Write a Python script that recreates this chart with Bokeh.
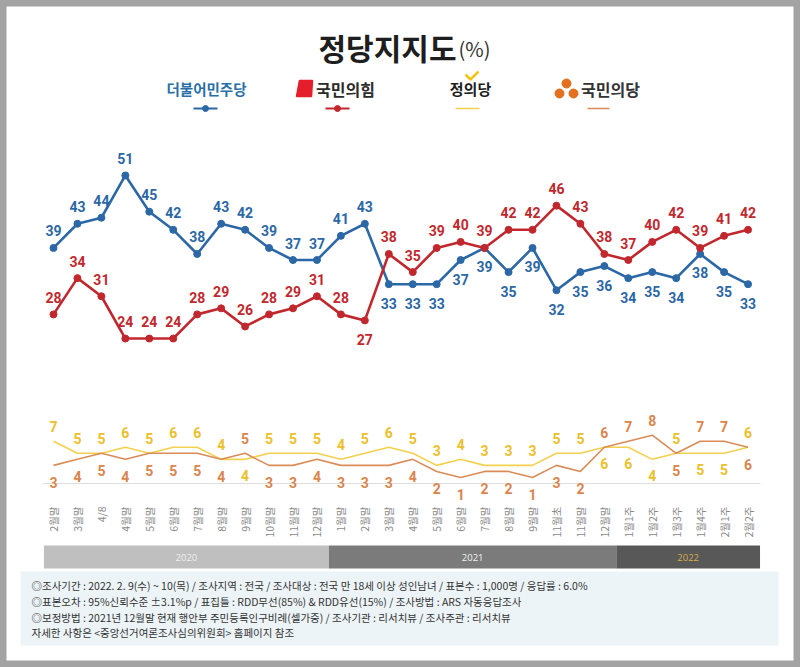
import numpy as np
from bokeh.plotting import figure
from bokeh.models import ColumnDataSource, Range1d
from bokeh.core.properties import value
from bokeh.embed import file_html
from bokeh.resources import INLINE

# ---------------- data ----------------
categories = ["2월말", "3월말", "4/8", "4월말", "5월말", "6월말", "7월말", "8월말", "9월말",
              "10월말", "11월말", "12월말",
              "1월말", "2월말", "3월말", "4월말", "5월말", "6월말", "7월말", "8월말", "9월말",
              "11월초", "11월말", "12월말",
              "1월1주", "1월2주", "1월3주", "1월4주", "2월1주", "2월2주"]
years = ["2020", "2021", "2022"]
year_counts = [12, 12, 6]
minjoo = [39, 43, 44, 51, 45, 42, 38, 43, 42, 39, 37, 37, 41, 43, 33, 33, 33, 37, 39, 35,
          39, 32, 35, 36, 34, 35, 34, 38, 35, 33]
ppp = [28, 34, 31, 24, 24, 24, 28, 29, 26, 28, 29, 31, 28, 27, 38, 35, 39, 40, 39, 42,
       42, 46, 43, 38, 37, 40, 42, 39, 41, 42]
justice = [7, 5, 5, 6, 5, 6, 6, 4, 4, 5, 5, 5, 4, 5, 6, 5, 3, 4, 3, 3, 3, 5, 5, 6, 6, 4,
           5, 5, 5, 6]
people = [3, 4, 5, 4, 5, 5, 5, 4, 5, 3, 3, 4, 3, 3, 3, 4, 2, 1, 2, 2, 1, 3, 2, 6, 7, 8,
          5, 7, 7, 6]
party_names = ["더불어민주당", "국민의힘", "정의당", "국민의당"]
title_text = "정당지지도"
notes = [
    "◎조사기간 : 2022. 2. 9(수) ~ 10(목) / 조사지역 : 전국 / 조사대상 : 전국 만 18세 이상 성인남녀 / 표본수 : 1,000명 / 응답률 : 6.0%",
    "◎표본오차 : 95%신뢰수준 ±3.1%p  / 표집틀 : RDD무선(85%) & RDD유선(15%) / 조사방법 : ARS 자동응답조사",
    "◎보정방법 : 2021년 12월말 현재 행안부 주민등록인구비례(셀가중) / 조사기관 : 리서치뷰 / 조사주관 : 리서치뷰",
    "자세한 사항은 <중앙선거여론조사심의위원회> 홈페이지 참조",
]

# ---------------- styles ----------------
BLUE = "#2c67a6"
RED = "#c1282e"
YEL_LINE = "#f3d04e"
YEL_TXT = "#ebc02a"
ORG_LINE = "#d98c58"
ORG_TXT = "#d9854c"
KR = value("Noto Sans CJK KR")
NUM = value("Roboto")

W, H = 800, 667


def X(px):  # page pixel -> data x
    return (px - 53) / 23.95


def Y(py):  # page pixel -> data y
    return (483 - py) / 6.04


p = figure(width=W, height=H, output_backend="svg", toolbar_location=None,
           x_range=Range1d(X(0), X(W)), y_range=Range1d(Y(H), Y(0)),
           min_border=0, x_axis_location=None, y_axis_location=None)
p.grid.visible = False
p.outline_line_color = "#a3a3a3"
p.outline_line_width = 12
p.background_fill_color = "white"
p.border_fill_color = "white"

idx = list(range(len(categories)))

# ---- baseline ----
p.line([X(42), X(760)], [0, 0], line_color="#dedede", line_width=1)

# ---- lower series ----
p.line(idx, justice, line_color=YEL_LINE, line_width=1.6)
p.line(idx, people, line_color=ORG_LINE, line_width=1.6)

org_top = [(o > j) or (o == j and i == 23) for i, (o, j) in enumerate(zip(people, justice))]
low_src = ColumnDataSource(dict(
    x=idx + idx,
    y=justice + people,
    t=[str(v) for v in justice] + [str(v) for v in people],
    c=[YEL_TXT] * len(idx) + [ORG_TXT] * len(idx),
    off=[(16 if ot else -15) for ot in org_top] + [(-15 if ot else 17) for ot in org_top],
))
p.text(x="x", y="y", text="t", source=low_src, text_color="c", y_offset="off",
       text_align="center", text_baseline="middle", text_font=NUM,
       text_font_size="14px", text_font_style="bold")

# ---- upper series ----
p.line(idx, minjoo, line_color=BLUE, line_width=2.6)
p.scatter(idx, minjoo, size=7, fill_color=BLUE, line_color=BLUE)
p.line(idx, ppp, line_color=RED, line_width=2.6)
p.scatter(idx, ppp, size=7, fill_color=RED, line_color=RED)

blue_off = [(-17 if b > r else 19) for b, r in zip(minjoo, ppp)]
red_off = [(19 if (i == 13) else -17) for i in idx]
up_src = ColumnDataSource(dict(
    x=idx + idx, y=minjoo + ppp,
    t=[str(v) for v in minjoo] + [str(v) for v in ppp],
    c=[BLUE] * len(idx) + [RED] * len(idx),
    off=blue_off + red_off,
))
p.text(x="x", y="y", text="t", source=up_src, text_color="c", y_offset="off",
       text_align="center", text_baseline="middle", text_font=NUM,
       text_font_size="14px", text_font_style="bold")

# ---- category labels (rotated) ----
p.text(x=idx, y=[Y(506)] * len(idx), text=categories, angle=np.pi / 2,
       text_align="right", text_baseline="middle", text_font=KR,
       text_font_size="10.5px", text_color="#8a8a8a")

# ---- year band ----
edges = np.concatenate([[-0.5], np.cumsum(year_counts) - 0.5])
lefts = list(edges[:-1])
lefts[0] = -0.4
rights = list(edges[1:])
p.quad(left=lefts, right=rights, top=Y(545), bottom=Y(568),
       fill_color=["#bfbfbf", "#7b7b7b", "#585858"], line_color=None)
p.text(x=[(l + r) / 2 for l, r in zip(lefts, rights)], y=[Y(557)] * 3, text=years,
       text_color=["#eeeeee", "#f2f2f2", "#d9ad4a"], text_align="center",
       text_baseline="middle", text_font=value("Open Sans"), text_font_size="9.5px")

# ---- notes box ----
p.quad(left=X(20), right=X(778), top=Y(571), bottom=Y(645),
       fill_color="#edf4f8", line_color=None)
p.text(x=[X(31)] * len(notes), y=[Y(585), Y(601), Y(617), Y(632)], text=notes,
       text_align="left", text_baseline="middle", text_font=KR,
       text_font_size="10.5px", text_color="#333333")

# ---- title ----
p.text(x=[X(456)], y=[Y(46)], text=[title_text], text_align="right",
       text_baseline="middle", text_font=KR, text_font_size="30px",
       text_font_style="bold", text_color="#1e1e1e")
p.text(x=[X(458)], y=[Y(48)], text=["(%)"], text_align="left",
       text_baseline="middle", text_font=KR, text_font_size="20px",
       text_color="#333333")

# ---- legend ----
leg_x = [206, 345, 470, 610]
leg_col = ["#2a6fa8", "#2b2b2b", "#1e1e1e", "#333333"]
leg_size = ["14.5px", "16px", "15px", "16px"]
for name, lx, col, fs in zip(party_names, leg_x, leg_col, leg_size):
    p.text(x=[X(lx)], y=[Y(88)], text=[name], text_align="center",
           text_baseline="middle", text_font=KR, text_font_size=fs,
           text_font_style="bold", text_color=col)
# legend line keys
p.line([X(193), X(217)], [Y(108)] * 2, line_color=BLUE, line_width=2)
p.scatter([X(205)], [Y(108)], size=6, fill_color=BLUE, line_color=BLUE)
p.line([X(325), X(349)], [Y(108)] * 2, line_color=RED, line_width=2)
p.scatter([X(337)], [Y(108)], size=6, fill_color=RED, line_color=RED)
p.line([X(455), X(479)], [Y(108)] * 2, line_color=YEL_LINE, line_width=1.6)
p.line([X(587), X(609)], [Y(108)] * 2, line_color=ORG_LINE, line_width=1.6)
# party marks
p.patch([X(299), X(312), X(311), X(296)], [Y(80), Y(80), Y(96), Y(96)],
        fill_color="#e61e2b", line_color="#e61e2b", line_width=1.5)
p.line([X(465), X(470), X(478)], [Y(74), Y(79), Y(71)], line_color="#f0c419",
       line_width=2.5)
p.scatter([X(566), X(559), X(573)], [Y(83), Y(93), Y(93)], size=9,
          fill_color="#e2701f", line_color="#e2701f")

open("out.html", "w").write(file_html(p, INLINE))
